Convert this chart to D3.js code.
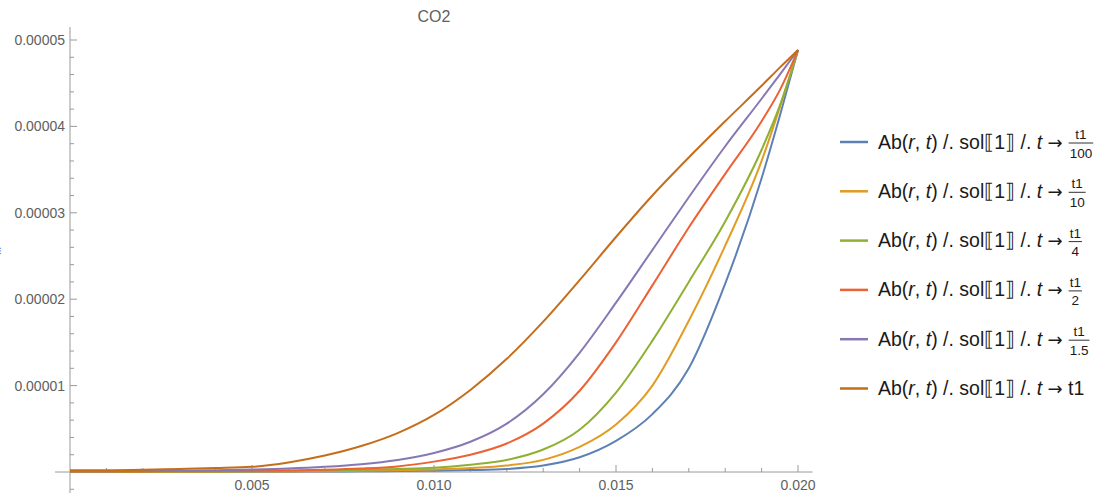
<!DOCTYPE html>
<html><head><meta charset="utf-8">
<script src="https://cdn.jsdelivr.net/npm/d3@7"></script>
<style>body{margin:0;background:#fff} svg{display:block}</style>
</head><body>
<svg id="c" width="1108" height="493"></svg>
<script>
const chartTitle = "CO2";
// r values (x) and series values in units of 1e-5
const rValues = [0,0.001,0.002,0.003,0.004,0.005,0.006,0.007,0.008,0.009,0.010,0.011,0.012,0.013,0.014,0.015,0.016,0.017,0.018,0.019,0.0195,0.020];
const unit = 1e-5;
const s100 = [0.001,0.001,0.001,0.002,0.002,0.003,0.004,0.006,0.008,0.011,0.015,0.022,0.035,0.075,0.17,0.36,0.67,1.20,2.18,3.40,4.12,4.884];
const s10  = [0.002,0.002,0.002,0.003,0.004,0.005,0.007,0.010,0.014,0.019,0.028,0.045,0.075,0.14,0.29,0.55,1.00,1.75,2.62,3.60,4.22,4.884];
const s4   = [0.003,0.003,0.004,0.005,0.007,0.010,0.013,0.018,0.025,0.035,0.050,0.085,0.14,0.26,0.49,0.92,1.52,2.20,2.90,3.73,4.24,4.884];
const s2   = [0.005,0.006,0.007,0.008,0.010,0.013,0.018,0.026,0.040,0.065,0.12,0.20,0.33,0.56,0.94,1.50,2.16,2.83,3.45,4.06,4.42,4.884];
const s15  = [0.010,0.010,0.012,0.015,0.020,0.028,0.040,0.060,0.090,0.14,0.22,0.35,0.56,0.90,1.38,1.96,2.57,3.18,3.77,4.32,4.60,4.884];
const s1   = [0.020,0.020,0.025,0.035,0.045,0.060,0.11,0.19,0.30,0.45,0.66,0.95,1.31,1.74,2.22,2.72,3.20,3.64,4.06,4.47,4.68,4.884];
const seriesList = [s100, s10, s4, s2, s15, s1];
const denominators = ["100","10","4","2","1.5",null];
const colors = ["#5e81b5","#e19c24","#8fb032","#eb6235","#8778b3","#c56e1a"];
const xTicks = [0.005,0.010,0.015,0.020];
const xTickLabels = ["0.005","0.010","0.015","0.020"];
const yTicks = [0.00001,0.00002,0.00003,0.00004,0.00005];
const yTickLabels = ["0.00001","0.00002","0.00003","0.00004","0.00005"];

const svg = d3.select("#c");
const x = d3.scaleLinear().domain([0,0.02]).range([70,798]);
const y = d3.scaleLinear().domain([0,5e-5]).range([472,40]);
const axisColor = "#9a9a9a", labelColor = "#606060";
const font = "'Liberation Sans', Arial, sans-serif";

// title
svg.append("text").attr("x",434).attr("y",22).attr("text-anchor","middle")
  .attr("font-family",font).attr("font-size",16).attr("fill",labelColor).text(chartTitle);

// tiny artifact at left edge
svg.append("text").attr("x",-1).attr("y",254).attr("font-family",font).attr("font-size",9)
  .attr("fill","#4a63c8").text("⁝");

const ax = svg.append("g");
ax.append("line").attr("x1",x(-0.00041)).attr("x2",x(0.0204)).attr("y1",y(0)).attr("y2",y(0))
  .attr("stroke",axisColor).attr("stroke-width",1);
ax.append("line").attr("x1",x(0)).attr("x2",x(0)).attr("y1",27).attr("y2",493)
  .attr("stroke",axisColor).attr("stroke-width",1);

// x ticks
const xMinor = x.ticks(20).filter(v => v > 0);
ax.selectAll(".xt").data(xMinor).join("line")
  .attr("x1",d=>x(d)).attr("x2",d=>x(d)).attr("y1",y(0))
  .attr("y2",d=> (Math.abs(d/0.005 - Math.round(d/0.005))<1e-6) ? y(0)-7 : y(0)-4)
  .attr("stroke",axisColor);
ax.selectAll(".xl").data(xTicks).join("text")
  .attr("x",d=>x(d)).attr("y",490).attr("text-anchor","middle")
  .attr("font-family",font).attr("font-size",14).attr("fill",labelColor)
  .text((d,i)=>xTickLabels[i]);

// y ticks
const yMinor = d3.range(-1, 26).map(k => k*2e-6).filter(v => Math.abs(v) > 1e-12);
ax.selectAll(".yt").data(yMinor).join("line")
  .attr("y1",d=>y(d)).attr("y2",d=>y(d)).attr("x1",x(0))
  .attr("x2",d=> (Math.abs(d/1e-5 - Math.round(d/1e-5))<1e-6) ? x(0)+7 : x(0)+4)
  .attr("stroke",axisColor);
ax.selectAll(".yl").data(yTicks).join("text")
  .attr("x",65).attr("y",d=>y(d)+5).attr("text-anchor","end")
  .attr("font-family",font).attr("font-size",14).attr("fill",labelColor)
  .text((d,i)=>yTickLabels[i]);

// curves
const line = d3.line().x((d,i)=>x(rValues[i])).y(d=>y(d*unit)).curve(d3.curveMonotoneX);
svg.append("g").selectAll("path").data(seriesList).join("path")
  .attr("d",line).attr("fill","none").attr("stroke",(d,i)=>colors[i])
  .attr("stroke-width",2).attr("stroke-linejoin","round");

// legend
const legFont = 19.5;
const lg = svg.append("g");
denominators.forEach((den,i)=>{
  const ry = 142 + i*49.3;
  lg.append("line").attr("x1",840).attr("x2",868).attr("y1",ry).attr("y2",ry)
    .attr("stroke",colors[i]).attr("stroke-width",2.5);
  const t = lg.append("text").attr("x",878).attr("y",ry+6.5)
    .attr("font-family",font).attr("font-size",legFont).attr("fill","#1a1a1a")
    .attr("xml:space","preserve");
  t.append("tspan").text("Ab(");
  t.append("tspan").attr("font-style","italic").text("r");
  t.append("tspan").text(", ");
  t.append("tspan").attr("font-style","italic").text("t");
  t.append("tspan").text(") /. sol\u27E61\u27E7 /. ");
  t.append("tspan").attr("font-style","italic").text("t");
  t.append("tspan").text(" ");
  t.append("tspan").attr("font-family","'DejaVu Sans', sans-serif").attr("font-size",18).text("\u2192");
  if (den === null) {
    t.append("tspan").text(" t1");
  } else {
    const w = t.node().getComputedTextLength();
    const fx0 = 878 + w + 6;
    const num = lg.append("text").attr("y",ry-3).attr("font-family",font).attr("font-size",13.5)
      .attr("fill","#1a1a1a").attr("text-anchor","middle").text("t1");
    const dn = lg.append("text").attr("y",ry+15.5).attr("font-family",font).attr("font-size",13.5)
      .attr("fill","#1a1a1a").attr("text-anchor","middle").text(den);
    const fw = Math.max(num.node().getComputedTextLength(), dn.node().getComputedTextLength()) + 2;
    const cx = fx0 + fw/2;
    num.attr("x",cx); dn.attr("x",cx);
    lg.append("line").attr("x1",fx0).attr("x2",fx0+fw).attr("y1",ry+1).attr("y2",ry+1)
      .attr("stroke","#1a1a1a").attr("stroke-width",0.9);
  }
});
</script>
</body></html>
